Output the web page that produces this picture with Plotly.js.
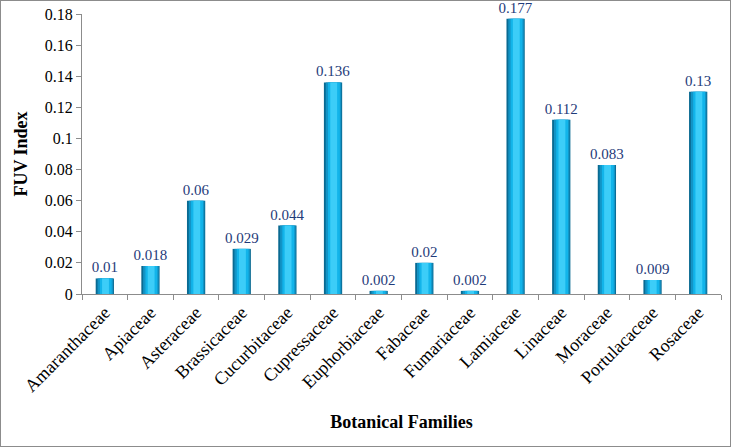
<!DOCTYPE html>
<html>
<head>
<meta charset="utf-8">
<script src="https://cdn.plot.ly/plotly-3.0.1.min.js"></script>
<style>
  body { margin: 0; background: #fff; }
  #chart { width: 729px; height: 445px; border: 1px solid #8c8c8c; }
</style>
</head>
<body>
<div id="chart"></div>
<script>
// families and FUV index values
var families = ["Amaranthaceae", "Apiaceae", "Asteraceae", "Brassicaceae", "Cucurbitaceae",
    "Cupressaceae", "Euphorbiaceae", "Fabaceae", "Fumariaceae", "Lamiaceae",
    "Linaceae", "Moraceae", "Portulacaceae", "Rosaceae"];
var fuvIndex = [0.01, 0.018, 0.06, 0.029, 0.044, 0.136, 0.002, 0.02, 0.002, 0.177,
    0.112, 0.083, 0.009, 0.13];
var fuvLabels = ["0.01", "0.018", "0.06", "0.029", "0.044", "0.136", "0.002", "0.02",
    "0.002", "0.177", "0.112", "0.083", "0.009", "0.13"];

// stack a few overlaid bars of shrinking width to fake the cylinder shading
var shades = [
    { w: 0.40, off: -0.20, color: "#0a6a92" },
    { w: 0.34, off: -0.16, color: "#1294c6" },
    { w: 0.26, off: -0.11, color: "#12b4ea" },
    { w: 0.15, off: -0.06, color: "#3ccdf8" }
];

var data = shades.map(function (s) {
    return {
        x: families,
        y: fuvIndex,
        type: "bar",
        width: s.w,
        offset: s.off,
        marker: { color: s.color, line: { width: 0 } },
        hoverinfo: "skip",
        showlegend: false
    };
});

// labels above bars
data.push({
    x: families,
    y: fuvIndex,
    type: "bar",
    width: 0.40,
    offset: -0.20,
    marker: { color: "rgba(0,0,0,0)" },
    text: fuvLabels,
    textposition: "outside",
    constraintext: "none",
    outsidetextfont: { family: "Liberation Serif", size: 15, color: "#1f3b7a" },
    cliponaxis: false,
    hoverinfo: "skip",
    showlegend: false
});

var layout = {
    barmode: "overlay",
    margin: { l: 81, r: 9, t: 13, b: 152 },
    paper_bgcolor: "#fff",
    plot_bgcolor: "#fff",
    font: { family: "Liberation Serif", size: 15, color: "#000" },
    xaxis: {
        type: "category",
        tickangle: -45,
        ticks: "outside",
        tickson: "boundaries",
        ticklen: 5,
        tickcolor: "#8c8c8c",
        showline: true,
        linecolor: "#8c8c8c",
        showgrid: false,
        automargin: false,
        tickfont: { family: "Liberation Serif", size: 18 },
        title: { text: "<b>Botanical Families</b>", font: { family: "Liberation Serif", size: 18 }, standoff: 20 }
    },
    yaxis: {
        range: [0, 0.18],
        dtick: 0.02,
        ticks: "outside",
        ticklen: 5,
        tickcolor: "#8c8c8c",
        showline: true,
        linecolor: "#8c8c8c",
        showgrid: false,
        zeroline: false,
        automargin: false,
        tickfont: { family: "Liberation Serif", size: 16 },
        title: { text: "<b>FUV Index</b>", font: { family: "Liberation Serif", size: 18 }, standoff: 12 }
    }
};

Plotly.newPlot("chart", data, layout, { displayModeBar: false });
</script>
</body>
</html>
